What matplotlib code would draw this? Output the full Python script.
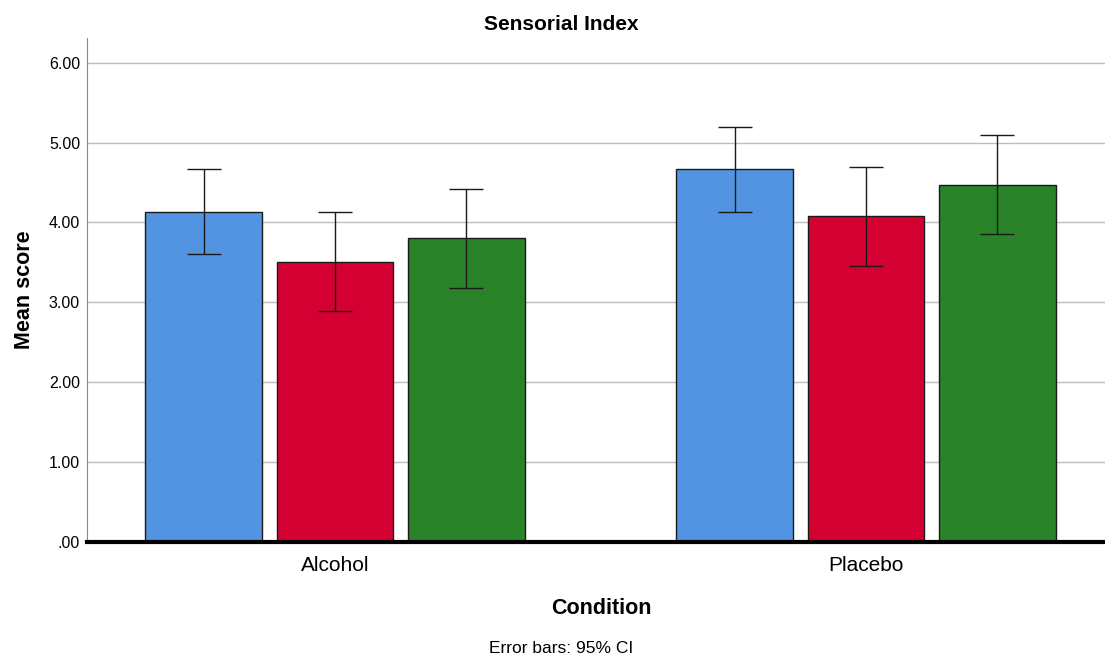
import matplotlib
matplotlib.use("Agg")
import matplotlib.pyplot as plt
import numpy as np

plt.rcParams['font.family'] = ['Liberation Sans', 'DejaVu Sans']

conditions = ["Alcohol", "Placebo"]
groups = ["Group 1", "Group 2", "Group 3"]
colors = ["#5294e2", "#d50032", "#2a8229"]

means = [[4.13, 4.67],
         [3.51, 4.08],
         [3.80, 4.47]]
ci_low = [[3.60, 4.13],
          [2.89, 3.46],
          [3.18, 3.85]]
ci_high = [[4.67, 5.20],
           [4.13, 4.70],
           [4.42, 5.09]]

fig = plt.figure(figsize=(11.05, 6.56), dpi=100)
ax = fig.add_axes([0.0787, 0.1738, 0.9213, 0.7683])

x = np.arange(len(conditions))
width = 0.22
step = 0.247

for i in range(len(groups)):
    m = np.array(means[i])
    lo = m - np.array(ci_low[i])
    hi = np.array(ci_high[i]) - m
    ax.bar(x + (i - 1) * step, m, width, color=colors[i],
           edgecolor="#1a1a1a", linewidth=1.0, zorder=3)
    ax.errorbar(x + (i - 1) * step, m, yerr=[lo, hi], fmt="none",
                ecolor="#1a1a1a", elinewidth=1.0, capsize=12, capthick=1.0, zorder=4)

ax.set_xlim(-0.467, 1.45)
ax.set_ylim(0, 6.31)
ax.set_yticks(np.arange(0, 7, 1))
ax.set_yticklabels([".00"] + ["%.2f" % v for v in range(1, 7)], fontsize=11.5)
ax.set_xticks(x)
ax.set_xticklabels(conditions, fontsize=15)
ax.tick_params(axis="both", length=0)
ax.tick_params(axis="y", pad=5)
ax.tick_params(axis="x", pad=10)

ax.yaxis.grid(True, color="#bdbdbd", linewidth=1.0, zorder=0)
ax.set_axisbelow(True)
for s in ["top", "right"]:
    ax.spines[s].set_visible(False)
ax.spines["left"].set_color("#888888")
ax.spines["bottom"].set_linewidth(3)
ax.spines["bottom"].set_color("black")
ax.spines["bottom"].set_zorder(5)

fig.text(0.508, 0.963, "Sensorial Index", ha="center", va="center",
         fontsize=15, fontweight="bold")
ax.set_ylabel("Mean score", fontsize=15.5, fontweight="bold", labelpad=10)
fig.text(0.544, 0.073, "Condition", ha="center", va="center",
         fontsize=15.5, fontweight="bold")
fig.text(0.508, 0.012, "Error bars: 95% CI", ha="center", va="center",
         fontsize=12.5)

fig.savefig("out.png", dpi=100)
